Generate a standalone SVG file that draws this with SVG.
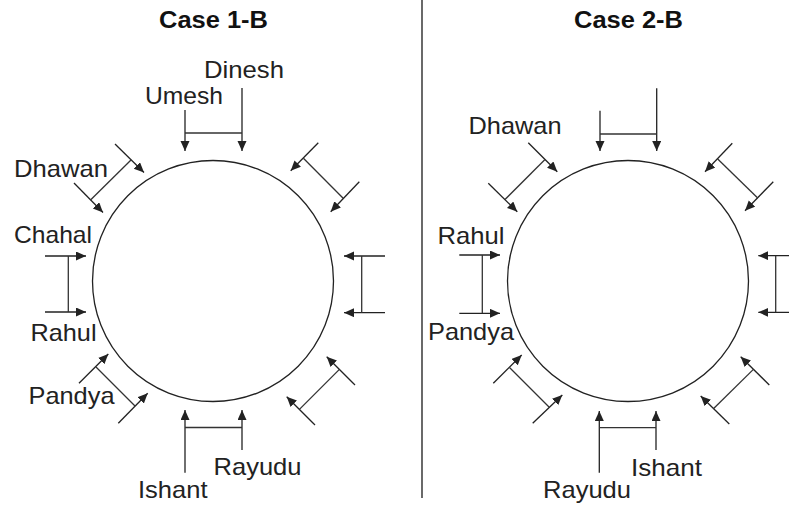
<svg xmlns="http://www.w3.org/2000/svg" width="789" height="505" viewBox="0 0 789 505">
<defs>
<style>
.bg{fill:#ffffff}
.tbl{fill:#ffffff;stroke:#222;stroke-width:1.3}
.ar{stroke:#222;stroke-width:1.3;fill:none;marker-end:url(#ah)}
.ln{stroke:#333;stroke-width:1.3;fill:none}
.div{stroke:#444;stroke-width:1.6}
.lbl{font-family:"Liberation Sans",Arial,Helvetica,sans-serif;font-size:24px;fill:#222}
.ttl{font-family:"Liberation Sans",Arial,Helvetica,sans-serif;font-size:23px;font-weight:bold;fill:#111}
</style>
<marker id="ah" markerUnits="userSpaceOnUse" markerWidth="11" markerHeight="10" refX="10" refY="4.5" orient="auto">
<path d="M0,0 L10,4.5 L0,9 z" fill="#222"/>
</marker>
</defs>
<rect class="bg" x="0" y="0" width="789" height="505"/>
<line class="div" x1="422" y1="0" x2="422" y2="498"/>

<g id="case1">
<g id="title1"><text class="ttl" x="159" y="28" textLength="109" lengthAdjust="spacingAndGlyphs">Case 1-B</text></g>
<g id="table1"><circle class="tbl" cx="213" cy="281" r="120.5"/></g>
<g id="c1-dinesh"><text class="lbl" x="204" y="78" textLength="80" lengthAdjust="spacingAndGlyphs">Dinesh</text></g>
<g id="c1-umesh"><text class="lbl" x="145" y="104" textLength="78" lengthAdjust="spacingAndGlyphs">Umesh</text></g>
<g id="c1-dhawan"><text class="lbl" x="14" y="177" textLength="94" lengthAdjust="spacingAndGlyphs">Dhawan</text></g>
<g id="c1-chahal"><text class="lbl" x="14" y="243" textLength="78" lengthAdjust="spacingAndGlyphs">Chahal</text></g>
<g id="c1-rahul"><text class="lbl" x="30.5" y="340.5" textLength="66" lengthAdjust="spacingAndGlyphs">Rahul</text></g>
<g id="c1-pandya"><text class="lbl" x="28.5" y="404" textLength="86" lengthAdjust="spacingAndGlyphs">Pandya</text></g>
<g id="c1-rayudu"><text class="lbl" x="213.5" y="475" textLength="88" lengthAdjust="spacingAndGlyphs">Rayudu</text></g>
<g id="c1-ishant"><text class="lbl" x="138" y="498" textLength="69.5" lengthAdjust="spacingAndGlyphs">Ishant</text></g>
</g>

<g id="case2">
<g id="title2"><text class="ttl" x="574" y="28" textLength="109" lengthAdjust="spacingAndGlyphs">Case 2-B</text></g>
<g id="table2"><circle class="tbl" cx="628" cy="281" r="120.5"/></g>
<g id="c2-dhawan"><text class="lbl" x="468.5" y="134" textLength="93" lengthAdjust="spacingAndGlyphs">Dhawan</text></g>
<g id="c2-rahul"><text class="lbl" x="437.5" y="244" textLength="67" lengthAdjust="spacingAndGlyphs">Rahul</text></g>
<g id="c2-pandya"><text class="lbl" x="428" y="340" textLength="86" lengthAdjust="spacingAndGlyphs">Pandya</text></g>
<g id="c2-ishant"><text class="lbl" x="631" y="475.5" textLength="71" lengthAdjust="spacingAndGlyphs">Ishant</text></g>
<g id="c2-rayudu"><text class="lbl" x="543" y="498" textLength="88" lengthAdjust="spacingAndGlyphs">Rayudu</text></g>
</g>

<g id="connectors">
<!-- Case 1-B -->
<line class="ar" x1="185" y1="110" x2="185" y2="151"/>
<line class="ar" x1="242" y1="88" x2="242" y2="151"/>
<line class="ln" x1="185" y1="133" x2="242" y2="133"/>

<line class="ar" x1="115" y1="144" x2="144" y2="172.5"/>
<line class="ar" x1="74" y1="183" x2="103" y2="212.5"/>
<line class="ln" x1="131" y1="160" x2="90.5" y2="200"/>

<line class="ar" x1="45" y1="256" x2="86" y2="256"/>
<line class="ar" x1="45" y1="312" x2="86" y2="312"/>
<line class="ln" x1="68.3" y1="256" x2="68.3" y2="312"/>

<line class="ar" x1="79" y1="383.3" x2="108.3" y2="354"/>
<line class="ar" x1="118.3" y1="423.3" x2="147.7" y2="393.3"/>
<line class="ln" x1="96" y1="367" x2="135" y2="406"/>

<line class="ar" x1="185" y1="472.7" x2="185" y2="410"/>
<line class="ar" x1="242" y1="450" x2="242" y2="410"/>
<line class="ln" x1="185" y1="427.5" x2="242" y2="427.5"/>

<line class="ar" x1="355" y1="385" x2="326.7" y2="356.7"/>
<line class="ar" x1="315" y1="425" x2="286.7" y2="396.7"/>
<line class="ln" x1="339.4" y1="369.4" x2="299.4" y2="409.4"/>

<line class="ar" x1="385" y1="256" x2="344" y2="256"/>
<line class="ar" x1="385" y1="312.7" x2="344" y2="312.7"/>
<line class="ln" x1="361.7" y1="256" x2="361.7" y2="312.7"/>

<line class="ar" x1="318.3" y1="142.7" x2="290.7" y2="170.7"/>
<line class="ar" x1="359.3" y1="181.7" x2="330.7" y2="211.7"/>
<line class="ln" x1="303.4" y1="158.3" x2="343.4" y2="198.5"/>

<!-- Case 2-B -->
<line class="ar" x1="600" y1="110.7" x2="600" y2="151"/>
<line class="ar" x1="656.7" y1="88.3" x2="656.7" y2="151"/>
<line class="ln" x1="600" y1="134" x2="656.7" y2="134"/>

<line class="ar" x1="528.3" y1="142.7" x2="557.3" y2="171.7"/>
<line class="ar" x1="488.3" y1="183.3" x2="517.3" y2="211.7"/>
<line class="ln" x1="545" y1="159.5" x2="505" y2="199.5"/>

<line class="ar" x1="459.3" y1="255" x2="500" y2="255"/>
<line class="ar" x1="459.3" y1="313.3" x2="500" y2="313.3"/>
<line class="ln" x1="482.3" y1="255" x2="482.3" y2="313.3"/>

<line class="ar" x1="493.3" y1="383.3" x2="521.7" y2="355"/>
<line class="ar" x1="532.7" y1="423.3" x2="562.3" y2="395"/>
<line class="ln" x1="509.5" y1="367.5" x2="549.5" y2="407.5"/>

<line class="ar" x1="599.3" y1="472.7" x2="599.3" y2="411"/>
<line class="ar" x1="656" y1="450" x2="656" y2="411"/>
<line class="ln" x1="599.3" y1="427.7" x2="656" y2="427.7"/>

<line class="ar" x1="769.3" y1="385" x2="740.7" y2="356.7"/>
<line class="ar" x1="729.3" y1="424" x2="700.7" y2="396"/>
<line class="ln" x1="753.4" y1="369.4" x2="713.4" y2="408.7"/>

<line class="ar" x1="799" y1="255.7" x2="758.3" y2="255.7"/>
<line class="ar" x1="799" y1="312.3" x2="758.3" y2="312.3"/>
<line class="ln" x1="775.7" y1="255.7" x2="775.7" y2="312.3"/>

<line class="ar" x1="732.3" y1="143.3" x2="705" y2="171.7"/>
<line class="ar" x1="773.3" y1="181.7" x2="745" y2="210.7"/>
<line class="ln" x1="717.7" y1="159" x2="757.7" y2="198"/>
</g>
</svg>
